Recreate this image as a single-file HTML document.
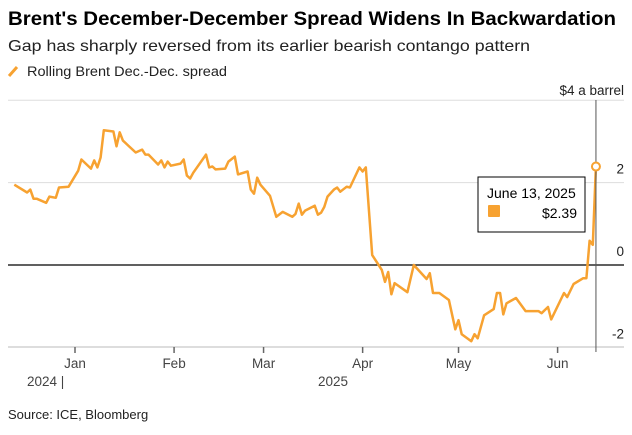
<!DOCTYPE html>
<html><head><meta charset="utf-8"><style>
body{margin:0;background:#fff;font-family:"Liberation Sans",Arial,sans-serif;}
svg text{font-family:"Liberation Sans",Arial,sans-serif;}
</style></head><body>
<svg id="chart" width="632" height="430" xmlns="http://www.w3.org/2000/svg">
<text x="8" y="25" font-size="19" font-weight="bold" fill="#000" textLength="608" lengthAdjust="spacingAndGlyphs">Brent's December-December Spread Widens In Backwardation</text>
<text x="8" y="51" font-size="16" fill="#222" textLength="522" lengthAdjust="spacingAndGlyphs">Gap has sharply reversed from its earlier bearish contango pattern</text>
<line x1="9" y1="76" x2="17" y2="67" stroke="#f7a231" stroke-width="3"/>
<text x="27" y="76" font-size="13.5" fill="#222" textLength="200" lengthAdjust="spacingAndGlyphs">Rolling Brent Dec.-Dec. spread</text>
<text x="624" y="95" font-size="13.5" fill="#222" text-anchor="end">$4 a barrel</text>
<g id="grid"></g>
<g id="xaxis"></g>
<text x="27" y="386" font-size="13.5" fill="#444">2024  |</text>
<text x="318" y="386" font-size="13.5" fill="#444">2025</text>
<path id="series" fill="none" stroke="#f7a231" stroke-width="2.5" stroke-linejoin="round"/>
<line id="cursor" y1="100" y2="352" stroke="#555" stroke-width="1"/>
<circle id="endpt" r="4" fill="#fff" stroke="#f7a231" stroke-width="2"/>
<g>
<rect x="478" y="177" width="107" height="55" fill="#fff" stroke="#000" stroke-width="1"/>
<text x="487" y="198" font-size="14" fill="#000">June 13, 2025</text>
<rect x="488" y="205" width="12" height="12" rx="1" fill="#f7a231"/>
<text x="577" y="218" font-size="14" fill="#000" text-anchor="end">$2.39</text>
</g>
<text x="8" y="419" font-size="13" fill="#222">Source: ICE, Bloomberg</text>
</svg>
<script>
const days=[-19,-15,-14,-13,-12,-9,-8,-6,-5,-2,1,2,5,6,7,8,9,12,13,14,15,19,21,22,23,26,27,28,29,30,33,34,35,36,37,41,42,43,44,47,48,50,51,54,55,56,57,58,61,63,65,68,69,70,71,72,75,76,77,78,79,81,82,83,85,86,89,90,91,93,96,97,98,99,100,104,106,110,111,112,114,117,119,120,121,124,125,126,128,131,132,133,134,135,138,141,145,146,148,149,153,154,156,159,160,161,162,163];
const values=[1.95,1.76,1.83,1.61,1.61,1.51,1.66,1.63,1.88,1.90,2.29,2.56,2.34,2.54,2.37,2.61,3.27,3.24,2.88,3.22,3.02,2.73,2.80,2.68,2.68,2.44,2.54,2.37,2.51,2.41,2.46,2.56,2.17,2.10,2.24,2.68,2.37,2.39,2.32,2.34,2.51,2.63,2.20,2.27,1.83,1.73,2.12,1.95,1.68,1.17,1.29,1.17,1.24,1.49,1.22,1.32,1.44,1.22,1.27,1.41,1.66,1.83,1.88,1.78,1.90,1.88,2.37,2.27,2.37,0.24,-0.12,-0.41,-0.17,-0.71,-0.44,-0.66,0.0,-0.34,-0.20,-0.68,-0.68,-0.85,-1.56,-1.34,-1.68,-1.85,-1.68,-1.78,-1.22,-1.07,-0.68,-0.68,-1.20,-0.93,-0.80,-1.12,-1.12,-1.17,-1.02,-1.32,-0.68,-0.78,-0.46,-0.32,-0.32,0.59,0.49,2.39];
const yTicks=[4,2,0,-2];
const yTickLabels=["","2","0","-2"];
const monthDays=[0,31,59,90,120,151];
const monthLabels=["Jan","Feb","Mar","Apr","May","Jun"];
const NS="http://www.w3.org/2000/svg";
const x=d=>75+d*3.196;
const y=v=>265-v*41.2;
const grid=document.getElementById('grid');
yTicks.forEach((t,i)=>{
  const l=document.createElementNS(NS,'line');
  l.setAttribute('x1',8);l.setAttribute('x2',624);
  l.setAttribute('y1',y(t));l.setAttribute('y2',y(t));
  l.setAttribute('stroke',t===0?'#000':'#ddd');l.setAttribute('stroke-width',t===0?1.2:1);
  
  
  grid.appendChild(l);
  if(yTickLabels[i]){
    const tx=document.createElementNS(NS,'text');
    tx.setAttribute('x',624);tx.setAttribute('y',y(t)-9);
    tx.setAttribute('text-anchor','end');tx.setAttribute('font-size','13.5');tx.setAttribute('fill','#222');
    tx.textContent=yTickLabels[i];
    
    
    grid.appendChild(tx);
  }
});
const base=document.createElementNS(NS,'line');
base.setAttribute('x1',8);base.setAttribute('x2',624);base.setAttribute('y1',347);base.setAttribute('y2',347);
base.setAttribute('stroke','#ddd');base.setAttribute('stroke-width',2);


grid.appendChild(base);
const xa=document.getElementById('xaxis');
monthDays.forEach((d,i)=>{
  const l=document.createElementNS(NS,'line');
  l.setAttribute('x1',x(d));l.setAttribute('x2',x(d));l.setAttribute('y1',347);l.setAttribute('y2',353);
  l.setAttribute('stroke','#666');l.setAttribute('stroke-width',1.5);
  
  
  xa.appendChild(l);
  const t=document.createElementNS(NS,'text');
  t.setAttribute('x',x(d));t.setAttribute('y',368);t.setAttribute('text-anchor','middle');
  t.setAttribute('font-size','13.5');t.setAttribute('fill','#444');t.textContent=monthLabels[i];
  
  
  xa.appendChild(t);
});
document.getElementById('series').setAttribute('d',days.map((d,i)=>(i?'L':'M')+x(d).toFixed(1)+','+y(values[i]).toFixed(1)).join(''));
const last=days.length-1;
const c=document.getElementById('cursor');
c.setAttribute('x1',x(days[last]));c.setAttribute('x2',x(days[last]));
const e=document.getElementById('endpt');
e.setAttribute('cx',x(days[last]));e.setAttribute('cy',y(values[last]));
</script>
</body></html>
